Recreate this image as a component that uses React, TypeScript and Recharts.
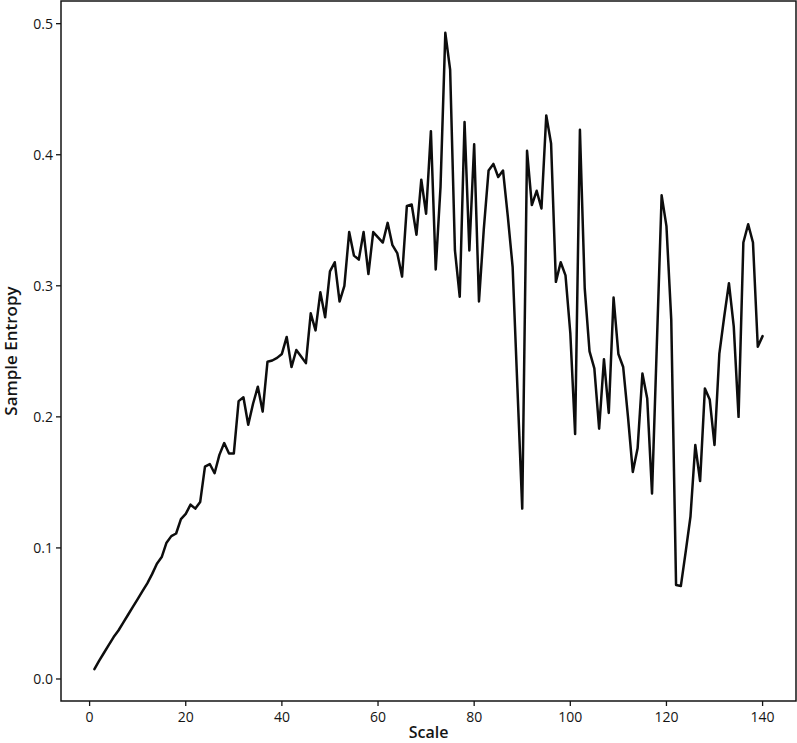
import { Label, Line, LineChart, ReferenceArea, XAxis, YAxis } from "recharts";

// Sample entropy per scale factor (scales 1..140).
const scales: number[] = Array.from({ length: 140 }, (_, i) => i + 1);

const entropy: number[] = [
  0.0075, 0.014, 0.02, 0.026, 0.032, 0.037, 0.043, 0.049, 0.055, 0.061,
  0.067, 0.073, 0.08, 0.088, 0.093, 0.104, 0.109, 0.111, 0.122, 0.126,
  0.133, 0.13, 0.135, 0.162, 0.164, 0.157, 0.171, 0.18, 0.172, 0.172,
  0.212, 0.215, 0.194, 0.21, 0.223, 0.204, 0.242, 0.243, 0.245, 0.248,
  0.261, 0.238, 0.251, 0.246, 0.241, 0.279, 0.266, 0.295, 0.276, 0.311,
  0.318, 0.288, 0.3, 0.341, 0.323, 0.32, 0.341, 0.309, 0.341, 0.337,
  0.333, 0.348, 0.331, 0.325, 0.307, 0.361, 0.362, 0.339, 0.381, 0.355,
  0.418, 0.3125, 0.3755, 0.493, 0.465, 0.327, 0.2916, 0.425, 0.327, 0.408,
  0.288, 0.343, 0.388, 0.393, 0.383, 0.388, 0.353, 0.3145, 0.222, 0.13,
  0.403, 0.3616, 0.3725, 0.359, 0.43, 0.4086, 0.303, 0.318, 0.308, 0.264,
  0.187, 0.419, 0.298, 0.25, 0.237, 0.191, 0.244, 0.203, 0.291, 0.248,
  0.238, 0.2, 0.158, 0.176, 0.233, 0.214, 0.1416, 0.255, 0.369, 0.3455,
  0.274, 0.0717, 0.071, 0.097, 0.124, 0.1785, 0.151, 0.2217, 0.2133, 0.1785,
  0.248, 0.276, 0.302, 0.269, 0.2, 0.333, 0.347, 0.333, 0.2535, 0.2616,
];

const xTicks = [0, 20, 40, 60, 80, 100, 120, 140];
const yTicks = [0, 0.1, 0.2, 0.3, 0.4, 0.5];

// matplotlib-style 5% margins around the data
const X_DOMAIN: [number, number] = [-5.95, 146.95];
const Y_DOMAIN: [number, number] = [-0.0168, 0.5173];

const FONT = "'Open Sans', 'DejaVu Sans', sans-serif";
const INK = "#141414";

const data = scales.map((scale, i) => ({ scale, value: entropy[i] }));

export default function App() {
  return (
    <div style={{ position: "absolute", left: 0, top: 0, background: "#fff", fontFamily: FONT }}>
      <LineChart
        width={797}
        height={743}
        data={data}
        margin={{ top: 1, right: 1, bottom: 0, left: 0 }}
        accessibilityLayer={false}
      >
        <XAxis
          dataKey="scale"
          type="number"
          domain={X_DOMAIN}
          allowDataOverflow
          ticks={xTicks}
          height={42}
          axisLine={false}
          tickSize={5}
          tickMargin={6}
          tickLine={{ stroke: INK, strokeWidth: 1.3 }}
          tick={{ fontSize: 14, fill: INK, fontFamily: FONT, fontWeight: 500 }}
        >
          <Label
            content={({ viewBox }: any) => (
              <text
                x={viewBox.x + viewBox.width / 2}
                y={viewBox.y + 37}
                textAnchor="middle"
                fontSize={16}
                fontWeight={600}
                fontFamily={FONT}
                fill={INK}
              >
                Scale
              </text>
            )}
          />
        </XAxis>
        <YAxis
          type="number"
          domain={Y_DOMAIN}
          allowDataOverflow
          ticks={yTicks}
          width={61}
          axisLine={false}
          tickSize={5}
          tickMargin={3}
          tickLine={{ stroke: INK, strokeWidth: 1.3 }}
          tickFormatter={(v: number) => v.toFixed(1)}
          tick={{ fontSize: 14, fill: INK, fontFamily: FONT, fontWeight: 500 }}
        >
          <Label
            content={({ viewBox }: any) => {
              const cx = 10;
              const cy = viewBox.y + viewBox.height / 2;
              return (
                <text
                  x={cx}
                  y={cy}
                  transform={`rotate(-90 ${cx} ${cy})`}
                  textAnchor="middle"
                  dominantBaseline="central"
                  fontSize={17}
                  fontWeight={600}
                  fontFamily={FONT}
                  fill={INK}
                >
                  Sample Entropy
                </text>
              );
            }}
          />
        </YAxis>
        <ReferenceArea
          x1={X_DOMAIN[0]}
          x2={X_DOMAIN[1]}
          y1={Y_DOMAIN[0]}
          y2={Y_DOMAIN[1]}
          fill="none"
          stroke={INK}
          strokeWidth={1.5}
          fillOpacity={0}
        />
        <Line
          type="linear"
          dataKey="value"
          stroke="#0d0d0d"
          strokeWidth={2.5}
          strokeLinejoin="round"
          strokeLinecap="round"
          dot={false}
          isAnimationActive={false}
        />
      </LineChart>
    </div>
  );
}
